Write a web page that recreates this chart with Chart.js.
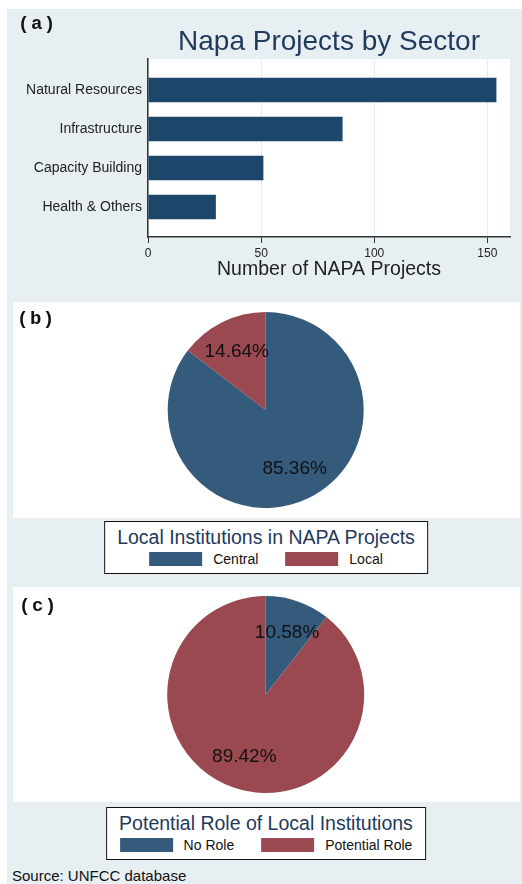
<!DOCTYPE html>
<html>
<head>
<meta charset="utf-8">
<script src="https://cdn.jsdelivr.net/npm/chart.js@4.4.1/dist/chart.umd.min.js"></script>
<style>
  body { margin: 0; background: #fff; font-family: "Liberation Sans", Arial, sans-serif; }
  #page { position: relative; width: 522px; height: 884px; overflow: hidden; }
  #panelBg { position: absolute; left: 7px; top: 9px; width: 515px; height: 875px; background: #e8eff2; }
  canvas { position: absolute; }
  .white { background: #fff; }
  .tag { position: absolute; font-family: "Liberation Mono", "Courier New", monospace; font-weight: bold;
         font-size: 19px; line-height: 19px; letter-spacing: 1.5px; color: #111; }
  .legend { position: absolute; transform: translateX(-50%); background: #fff; border: 1.5px solid #111;
            padding: 4px 12px 7px; white-space: nowrap; }
  .legend .ttl { font-size: 19.5px; line-height: 23px; color: #1f3a5c; text-align: center; }
  .legend .row { display: flex; justify-content: center; align-items: center; gap: 27px; margin-top: 3px; height: 14px; }
  .legend .item { display: flex; align-items: center; gap: 11px; font-size: 14px; color: #111; }
  .legend .sw { width: 53px; height: 14px; }
  #source { position: absolute; left: 12px; top: 868px; font-size: 15px; line-height: 15px; color: #111; }
</style>
</head>
<body>
<div id="page">
  <div id="panelBg"></div>
  <canvas id="sectorChart" width="515" height="290" style="left:7px;top:9px"></canvas>
  <div class="tag" style="left:18px;top:15px">(a)</div>

  <canvas id="centralChart" class="white" width="507" height="216" style="left:13px;top:302px"></canvas>
  <div class="tag" style="left:17px;top:310px">(b)</div>
  <div class="legend" id="centralLegend" style="left:266px;top:521px"></div>

  <canvas id="roleChart" class="white" width="507" height="215" style="left:13px;top:587px"></canvas>
  <div class="tag" style="left:19px;top:597px">(c)</div>
  <div class="legend" id="roleLegend" style="left:266px;top:807px"></div>

  <div id="source">Source: UNFCC database</div>
</div>

<script>
// --- data ---
const sectors = ['Natural Resources', 'Infrastructure', 'Capacity Building', 'Health & Others'];
const sectorProjects = [154, 86, 51, 30];
const xTicks = [0, 50, 100, 150];

const centralLabels = ['Central', 'Local'];
const centralShare = [85.36, 14.64];

const roleLabels = ['No Role', 'Potential Role'];
const roleShare = [10.58, 89.42];

// colours (stata s2color-ish)
const NAVY = '#1d466b';
const PIE_BLUE = '#345a7c';
const PIE_RED = '#9a4950';
const TITLE = '#1f3a5c';
const FONT = '"Liberation Sans", Arial, sans-serif';

Chart.defaults.font.family = FONT;

// white plot region behind the bars
const plotBg = {
  id: 'plotBg',
  beforeDraw(chart) {
    const { ctx, chartArea: a } = chart;
    ctx.save();
    ctx.fillStyle = '#fff';
    ctx.fillRect(a.left, a.top, a.right - a.left, a.bottom - a.top);
    ctx.restore();
  }
};

// percent labels inside pie slices
const sliceLabels = {
  id: 'sliceLabels',
  afterDatasetsDraw(chart) {
    const { ctx } = chart;
    const ds = chart.data.datasets[0];
    const total = ds.data.reduce((a, b) => a + b, 0);
    ctx.save();
    ctx.font = '19px ' + FONT;
    ctx.fillStyle = '#111';
    ctx.textAlign = 'center';
    ctx.textBaseline = 'middle';
    chart.getDatasetMeta(0).data.forEach((arc, i) => {
      const { x, y, startAngle, endAngle, outerRadius } = arc.getProps(['x', 'y', 'startAngle', 'endAngle', 'outerRadius'], true);
      const mid = (startAngle + endAngle) / 2;
      const r = outerRadius * 0.665;
      ctx.fillText((ds.data[i] / total * 100).toFixed(2) + '%', x + Math.cos(mid) * r, y + Math.sin(mid) * r);
    });
    ctx.restore();
  }
};

// (a) bars
new Chart(document.getElementById('sectorChart'), {
  type: 'bar',
  data: {
    datasets: [{
      data: sectorProjects.map((v, i) => ({ x: v, y: i })),
      backgroundColor: NAVY,
      barPercentage: 0.63,
      categoryPercentage: 1
    }]
  },
  options: {
    indexAxis: 'y',
    responsive: false,
    animation: false,
    layout: { padding: { right: 12 } },
    plugins: {
      legend: { display: false },
      tooltip: { enabled: false },
      title: {
        display: true,
        fullSize: false,
        text: 'Napa Projects by Sector',
        color: TITLE,
        font: { size: 28, weight: 'normal' },
        padding: { top: 16, bottom: 0.4 }
      }
    },
    scales: {
      x: {
        type: 'linear',
        min: 0,
        max: 160,
        afterBuildTicks: s => { s.ticks = xTicks.map(v => ({ value: v })); },
        afterFit: s => { s.height = 62; },
        grid: { color: '#e3ecf0', tickColor: '#333', tickLength: 6 },
        border: { color: '#333', width: 1.5 },
        ticks: { color: '#222', font: { size: 12 }, padding: 3, maxRotation: 0 },
        title: {
          display: true,
          text: 'Number of NAPA Projects',
          color: '#222',
          font: { size: 19.5 },
          padding: { top: 0, bottom: 18 }
        }
      },
      y: {
        type: 'linear',
        reverse: true,
        offset: false,
        min: -0.795,
        max: 3.77,
        afterBuildTicks: s => { s.ticks = sectors.map((_, i) => ({ value: i })); },
        afterFit: s => { s.width = 141; },
        grid: { display: false, drawTicks: false, offset: false },
        border: { color: '#333', width: 1.5 },
        ticks: { callback: v => sectors[v], color: '#222', font: { size: 14 }, padding: 6 }
      }
    }
  },
  plugins: [plotBg]
});

// (b), (c) pies
function pieChart(id, labels, values, padding) {
  return new Chart(document.getElementById(id), {
    type: 'pie',
    data: {
      labels,
      datasets: [{ data: values, backgroundColor: [PIE_BLUE, PIE_RED], borderWidth: 0 }]
    },
    options: {
      responsive: false,
      animation: false,
      layout: { padding },
      plugins: { legend: { display: false }, tooltip: { enabled: false } }
    },
    plugins: [sliceLabels]
  });
}

// boxed legend below each pie, items come from the chart itself
function htmlLegend(chart, el, title) {
  const items = chart.options.plugins.legend.labels.generateLabels(chart);
  el.innerHTML = '<div class="ttl">' + title + '</div><div class="row">' +
    items.map(it => '<div class="item"><span class="sw" style="background:' + it.fillStyle + '"></span>' + it.text + '</div>').join('') +
    '</div>';
}

const centralChart = pieChart('centralChart', centralLabels, centralShare, { top: 10, bottom: 10, left: 0, right: 1.6 });
htmlLegend(centralChart, document.getElementById('centralLegend'), 'Local Institutions in NAPA Projects');

const roleChart = pieChart('roleChart', roleLabels, roleShare, { top: 9, bottom: 9, left: 0, right: 1.6 });
htmlLegend(roleChart, document.getElementById('roleLegend'), 'Potential Role of Local Institutions');
</script>
</body>
</html>
